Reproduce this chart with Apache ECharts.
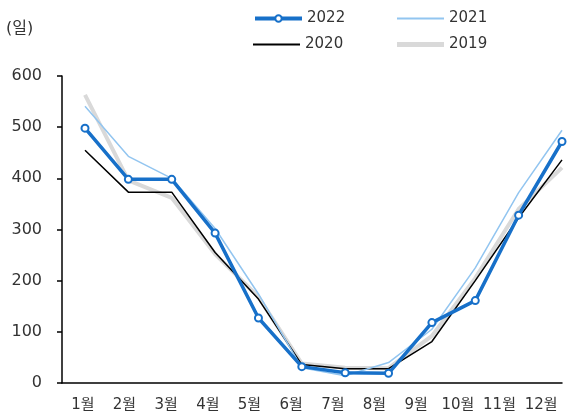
<!DOCTYPE html>
<html>
<head>
<meta charset="utf-8">
<script src="https://cdn.jsdelivr.net/npm/echarts@6/dist/echarts.min.js"></script>
<style>
html, body { margin: 0; padding: 0; background: #fff; }
#main { width: 584px; height: 415px; }
</style>
</head>
<body>
<div id="main"></div>
<script>
// 월별 일수 (단위: 일)
const months = ['1월', '2월', '3월', '4월', '5월', '6월', '7월', '8월', '9월', '10월', '11월', '12월'];
const yTicks = [0, 100, 200, 300, 400, 500, 600];
const y2022 = [498, 398, 398, 293, 127, 32, 20, 19, 118, 161, 328, 472];
const y2021 = [541, 443, 400, 302, 174, 30, 14, 40, 105, 225, 372, 494];
const y2020 = [455, 373, 373, 255, 164, 36, 28, 28, 81, 200, 323, 436];
const y2019 = [563, 396, 362, 252, 168, 38, 30, 29, 92, 205, 340, 421];

const FONT = "'DejaVu Sans', 'Noto Sans CJK KR'";
const C2022 = '#1770c9';
const C2021 = '#92c5f0';
const C2020 = '#000000';
const C2019 = '#d9d9d9';

const myEcharts = echarts.init(document.getElementById('main'));

// 범례 하나씩 위치 지정
function legendAt(name, left, top, extra) {
    return Object.assign({
        data: [name],
        left: left,
        top: top,
        padding: 0,
        itemWidth: 47,
        itemHeight: 8,
        itemGap: 5,
        textStyle: { fontFamily: FONT, fontSize: 15, color: '#333' }
    }, extra || {});
}

const option = {
    animation: false,
    textStyle: { fontFamily: FONT },
    title: {
        text: '(일)',
        left: 6,
        top: 21,
        padding: 0,
        textStyle: { fontFamily: FONT, fontSize: 16, fontWeight: 'normal', color: '#333' }
    },
    legend: [
        legendAt('2022', 253, 11, { lineStyle: { width: 4 } }),
        legendAt('2021', 397, 11, { icon: 'rect', itemHeight: 2 }),
        legendAt('2020', 253, 37, { icon: 'rect', itemHeight: 2 }),
        legendAt('2019', 397, 37, { icon: 'rect', itemHeight: 5 })
    ],
    grid: [
        { left: 62, right: 22, top: 76, bottom: 32 },
        { left: 85, right: 22, top: 76, bottom: 32 }
    ],
    xAxis: [
        {
            type: 'category',
            gridIndex: 0,
            data: months,
            boundaryGap: true,
            axisLine: { lineStyle: { color: '#000', width: 1.5 } },
            axisTick: { length: 5, lineStyle: { color: '#000', width: 1.5 } },
            axisLabel: { interval: 0, fontFamily: FONT, fontSize: 15, color: '#333', margin: 15 }
        },
        {
            type: 'category',
            gridIndex: 1,
            data: months,
            boundaryGap: false,
            show: false
        }
    ],
    yAxis: [
        {
            type: 'value',
            gridIndex: 0,
            min: yTicks[0],
            max: yTicks[yTicks.length - 1],
            interval: 100,
            axisLine: { show: true, lineStyle: { color: '#000', width: 1.5 } },
            axisTick: { show: true, length: 5, lineStyle: { color: '#000', width: 1.5 } },
            splitLine: { show: false },
            axisLabel: { fontFamily: FONT, fontSize: 16, color: '#333', margin: 20 }
        },
        {
            type: 'value',
            gridIndex: 1,
            min: yTicks[0],
            max: yTicks[yTicks.length - 1],
            show: false
        }
    ],
    series: [
        {
            name: '2019', type: 'line', xAxisIndex: 1, yAxisIndex: 1,
            data: y2019, symbol: 'none', color: C2019,
            lineStyle: { width: 4, color: C2019 }
        },
        {
            name: '2020', type: 'line', xAxisIndex: 1, yAxisIndex: 1,
            data: y2020, symbol: 'none', color: C2020,
            lineStyle: { width: 1.5, color: C2020 }
        },
        {
            name: '2021', type: 'line', xAxisIndex: 1, yAxisIndex: 1,
            data: y2021, symbol: 'none', color: C2021,
            lineStyle: { width: 1.5, color: C2021 }
        },
        {
            name: '2022', type: 'line', xAxisIndex: 1, yAxisIndex: 1,
            data: y2022, symbol: 'emptyCircle', symbolSize: 7, color: C2022,
            itemStyle: { borderWidth: 2 },
            lineStyle: { width: 3.5, color: C2022 }
        }
    ]
};

myEcharts.setOption(option);
</script>
</body>
</html>
